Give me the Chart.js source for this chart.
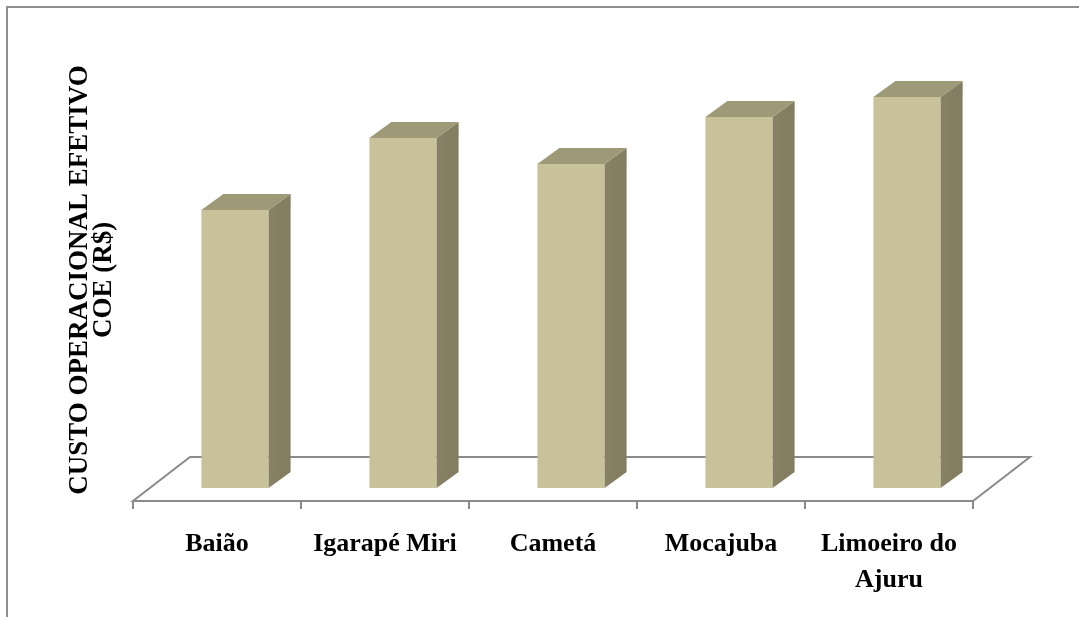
<!DOCTYPE html>
<html>
<head>
<meta charset="utf-8">
<title>COE por município</title>
<script src="https://cdn.jsdelivr.net/npm/chart.js@4.4.1/dist/chart.umd.min.js"></script>
<style>
html,body{margin:0;padding:0;background:#fff;}
canvas{display:block;}
</style>
</head>
<body>
<canvas id="chart" width="1079" height="617"></canvas>
<script>
// municipalities and effective operating cost (COE), relative units
const municipios = ["Baião", "Igarapé Miri", "Cametá", "Mocajuba", ["Limoeiro do", "Ajuru"]];
const coe = [27.8, 35.0, 32.4, 37.1, 39.1];
const yMax = 41.6;
const yTitle = ["CUSTO OPERACIONAL EFETIVO", "COE (R$)"];

const frontColor = "#c8c199";
const sideColor = "#827c60";
const topColor = "#9e9a77";
const floorColor = "#8b8b8b";

// depth of the bars and of the floor, in px
const barDepth = {dx: 22, dy: -16};
const floorFront = {dx: -18, dy: 13};
const floorBack = {dx: 39, dy: -31};

const fontFamily = "'Liberation Serif', 'Times New Roman', serif";

const box3d = {
  id: "box3d",
  beforeDraw(chart){
    const c = chart.ctx;
    c.save();
    c.fillStyle = "#fff";
    c.fillRect(0, 0, chart.width, chart.height);
    // outer frame
    c.strokeStyle = "#8e8e8e";
    c.lineWidth = 2;
    c.beginPath();
    c.moveTo(7, chart.height);
    c.lineTo(7, 7);
    c.lineTo(chart.width, 7);
    c.stroke();
    c.restore();
  },
  beforeDatasetsDraw(chart){
    const c = chart.ctx;
    const a = chart.chartArea;
    const fl = a.left + floorFront.dx, fr = a.right + floorFront.dx, fy = a.bottom + floorFront.dy;
    const bl = a.left + floorBack.dx, br = a.right + floorBack.dx, by = a.bottom + floorBack.dy;
    c.save();
    c.strokeStyle = floorColor;
    c.lineWidth = 2;
    c.beginPath();
    c.moveTo(fl, fy);
    c.lineTo(fr, fy);
    c.lineTo(br, by);
    c.lineTo(bl, by);
    c.closePath();
    c.stroke();
    // category ticks under the front edge
    const n = chart.data.labels.length;
    const step = (fr - fl) / n;
    c.beginPath();
    for(let i = 0; i <= n; i++){
      const x = Math.round(fl + i * step);
      c.moveTo(x, fy);
      c.lineTo(x, fy + 8);
    }
    c.stroke();
    c.restore();
  },
  afterDatasetsDraw(chart){
    const c = chart.ctx;
    const meta = chart.getDatasetMeta(0);
    c.save();
    meta.data.forEach(bar => {
      const p = bar.getProps(["x", "y", "base", "width"], true);
      const l = p.x - p.width / 2, r = p.x + p.width / 2;
      const t = p.y, b = p.base;
      // side face
      const sg = c.createLinearGradient(r, 0, r + barDepth.dx, 0);
      sg.addColorStop(0, "#878165");
      sg.addColorStop(1, sideColor);
      c.fillStyle = sg;
      c.beginPath();
      c.moveTo(r, t);
      c.lineTo(r + barDepth.dx, t + barDepth.dy);
      c.lineTo(r + barDepth.dx, b + barDepth.dy);
      c.lineTo(r, b);
      c.closePath();
      c.fill();
      // top face
      c.fillStyle = topColor;
      c.beginPath();
      c.moveTo(l, t);
      c.lineTo(l + barDepth.dx, t + barDepth.dy);
      c.lineTo(r + barDepth.dx, t + barDepth.dy);
      c.lineTo(r, t);
      c.closePath();
      c.fill();
    });
    c.restore();
  }
};

const ctx = document.getElementById("chart");

const chart = new Chart(ctx, {
  type: "bar",
  data: {
    labels: municipios,
    datasets: [{
      label: "COE",
      data: coe,
      backgroundColor: frontColor,
      borderWidth: 0,
      barPercentage: 0.4,
      categoryPercentage: 1
    }]
  },
  options: {
    responsive: false,
    animation: false,
    devicePixelRatio: 1,
    layout: {padding: {left: 40, right: 88, top: 72, bottom: 0}},
    plugins: {
      legend: {display: false},
      tooltip: {enabled: false}
    },
    scales: {
      x: {
        grid: {display: false},
        border: {display: false},
        ticks: {
          color: "#000",
          font: {family: fontFamily, size: 26, weight: "bold", lineHeight: 1.385},
          padding: 30,
          labelOffset: -18,
          maxRotation: 0,
          autoSkip: false
        },
        afterFit(scale){ scale.height = 129; }
      },
      y: {
        min: 0,
        max: yMax,
        grid: {display: false},
        border: {display: false},
        ticks: {display: false},
        title: {
          display: true,
          text: yTitle,
          color: "#000",
          font: {family: fontFamily, size: 27, weight: "bold", lineHeight: 0.9},
          padding: {top: 28, bottom: 0}
        },
        afterFit(scale){ scale.width = 111; }
      }
    }
  },
  plugins: [box3d]
});
</script>
</body>
</html>
